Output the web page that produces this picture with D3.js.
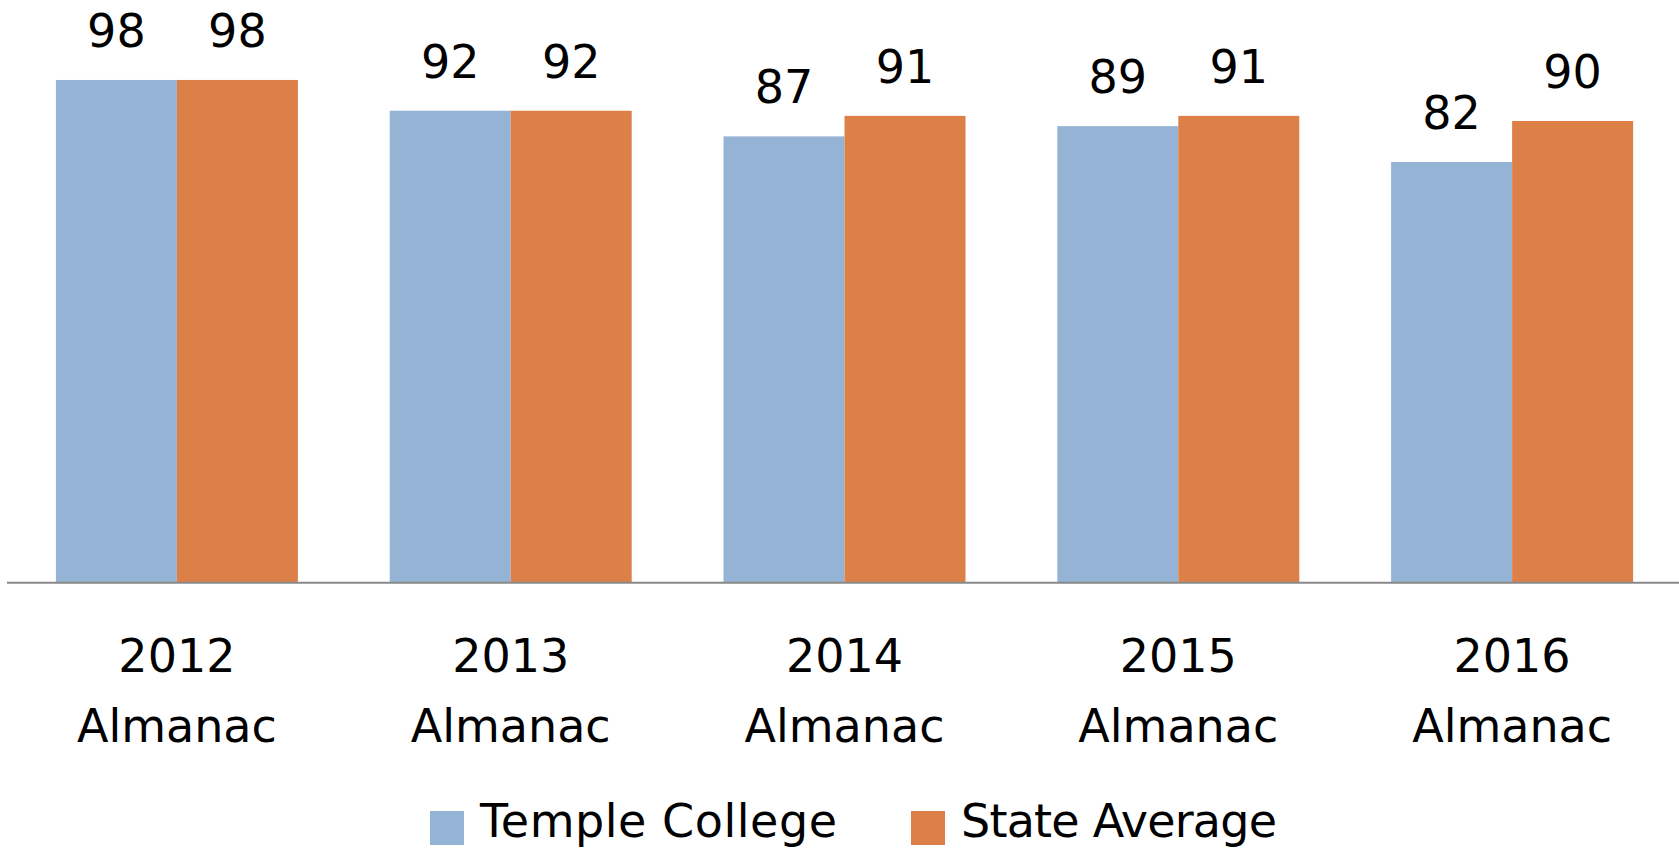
<!DOCTYPE html>
<html><head><meta charset="utf-8">
<script src="https://cdn.jsdelivr.net/npm/d3@7"></script>
<style>html,body{margin:0;padding:0;background:#fff;}svg{display:block;}</style>
</head><body>
<svg id="chart" width="1679" height="848"></svg>
<script>
const categories = ["2012 Almanac","2013 Almanac","2014 Almanac","2015 Almanac","2016 Almanac"];
const seriesNames = ["Temple College","State Average"];
const templeCollege = [98, 92, 87, 89, 82];
const stateAverage = [98, 92, 91, 91, 90];
const colors = ["#95B3D5", "#DD8047"];

const W = 1679, H = 848;
const svg = d3.select("#chart");
const font = "'DejaVu Sans', sans-serif";

const x0 = d3.scaleBand().domain(categories).range([10, 1679]).paddingInner(0.275).paddingOuter(0.1375);
const x1 = d3.scaleBand().domain(seriesNames).range([0, x0.bandwidth()]);
const y = d3.scaleLinear().domain([0, 100]).range([582.7, 69.7]);

const rows = categories.map((c, i) => ({cat: c, vals: [templeCollege[i], stateAverage[i]]}));

const g = svg.append("g");
const grp = g.selectAll("g.grp").data(rows).join("g")
  .attr("transform", d => `translate(${x0(d.cat)},0)`);

grp.selectAll("rect").data(d => d.vals.map((v, j) => ({v, s: seriesNames[j], j})))
  .join("rect")
  .attr("x", d => x1(d.s))
  .attr("width", x1.bandwidth())
  .attr("y", d => y(d.v))
  .attr("height", d => y(0) - y(d.v))
  .attr("fill", d => colors[d.j]);

grp.selectAll("text.val").data(d => d.vals.map((v, j) => ({v, s: seriesNames[j]})))
  .join("text").attr("class", "val")
  .attr("x", d => x1(d.s) + x1.bandwidth() / 2)
  .attr("y", d => y(d.v) - 33)
  .attr("text-anchor", "middle")
  .attr("font-family", font).attr("font-size", 46)
  .attr("fill", "#000")
  .text(d => d.v);

// axis
const axis = d3.axisBottom(x0).tickSize(0).tickFormat("");
const ax = svg.append("g").attr("transform", `translate(0,${y(0)})`).call(axis);
ax.select(".domain").attr("stroke", "#898989").attr("stroke-width", 2)
  .attr("d", `M7,0H${W}`);
ax.selectAll(".tick").each(function(d) {
  const parts = d.split(" ");
  const t = d3.select(this).append("text")
    .attr("text-anchor", "middle")
    .attr("font-family", font).attr("font-size", 46)
    .attr("fill", "#000");
  t.append("tspan").attr("x", 0).attr("y", 672 - y(0)).text(parts[0]);
  t.append("tspan").attr("x", 0).attr("y", 742 - y(0)).text(parts[1]);
});

// legend
const legendX = [430, 911];
const legendTextLen = [357, 316];
const leg = svg.append("g");
seriesNames.forEach((s, i) => {
  leg.append("rect").attr("x", legendX[i]).attr("y", 811).attr("width", 34).attr("height", 34).attr("fill", colors[i]);
  leg.append("text").attr("x", legendX[i] + 50).attr("y", 837)
    .attr("font-family", font).attr("font-size", 46).attr("fill", "#000")
    .attr("textLength", legendTextLen[i]).attr("lengthAdjust", "spacing")
    .text(s);
});
</script>
</body></html>
